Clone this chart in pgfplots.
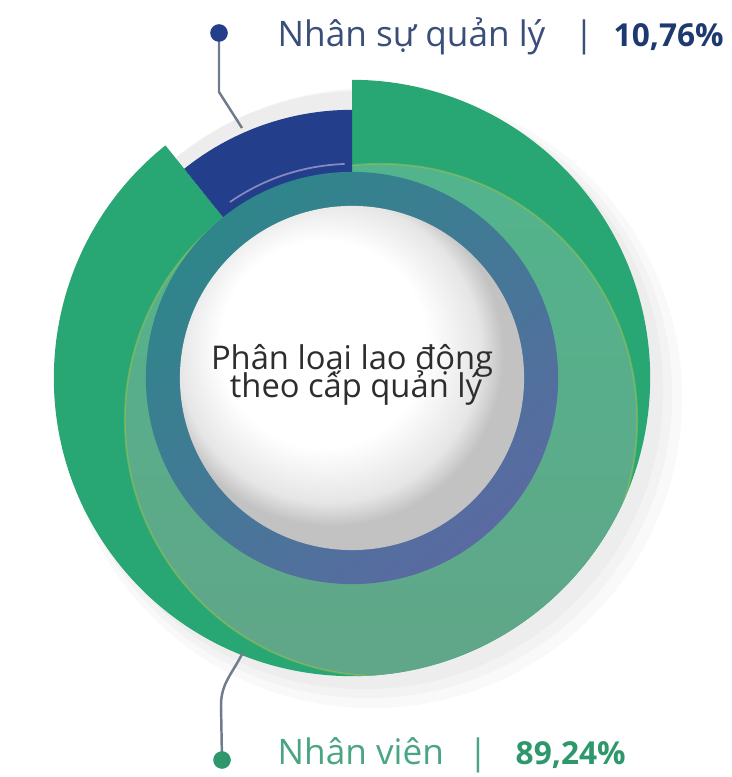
\documentclass[border=0pt]{standalone}
\usepackage{pgfplots}
\pgfplotsset{compat=1.18}
\usepackage{pgfplotstable}
\usepackage{fontspec}
\setmainfont{Open Sans}
\usetikzlibrary{calc}

\definecolor{dkgreen}{RGB}{40,167,117}
\definecolor{ltgreen}{RGB}{82,180,140}
\definecolor{greygreen}{RGB}{96,166,136}
\definecolor{navy}{RGB}{35,62,139}
\definecolor{ringteal}{RGB}{46,134,138}
\definecolor{ringslate}{RGB}{90,106,162}
\definecolor{leader}{RGB}{110,124,140}
\definecolor{lavender}{RGB}{160,156,210}
\definecolor{navytxt}{RGB}{58,78,122}
\definecolor{navybold}{RGB}{30,56,112}
\definecolor{greentxt}{RGB}{74,165,131}
\definecolor{greenbold}{RGB}{46,152,108}
\definecolor{centertxt}{RGB}{45,45,45}

% white ball in the middle, lit from the upper left
\pgfdeclareradialshading{ball}{\pgfpoint{-6bp}{7bp}}{%
  color(0bp)=(white); color(15bp)=(white); color(22bp)=(black!10);
  color(25bp)=(black!24); color(50bp)=(black!24)}

\pgfplotstableread[col sep=comma]{
group,share
Nhân sự quản lý,10.76
Nhân viên,89.24
}\laborshare

\pgfplotstablegetelem{0}{share}\of\laborshare\let\shareMgr\pgfplotsretval
\pgfplotstablegetelem{1}{share}\of\laborshare\let\shareStaff\pgfplotsretval
\pgfmathsetmacro\angMgr{90+3.6*\shareMgr}
\pgfmathsetmacro\angStaff{\angMgr+3.6*\shareStaff}

% ring centre, in picture pixels (y downwards is negative)
\def\cx{352}
\def\cy{-378}

% \donutsector{colour}{start angle}{end angle}{inner r}{outer r}
\newcommand\donutsector[5]{%
  \fill[#1] ($(axis cs:\cx,\cy)+(#2:#5)$) arc[start angle=#2, end angle=#3, radius=#5]
    -- ($(axis cs:\cx,\cy)+(#3:#4)$) arc[start angle=#3, end angle=#2, radius=#4] -- cycle;}

\begin{document}
\begin{tikzpicture}
\begin{axis}[
    name=ax, hide axis,
    x=0.01cm, y=0.01cm,
    xmin=0, xmax=731, ymin=-777, ymax=0,
    clip=false,
]
    % soft shadow under the ring, to the lower right
    \fill[black, opacity=0.025] (axis cs:372,-398) circle[radius=3.10cm];
    \fill[black, opacity=0.025] (axis cs:368,-394) circle[radius=3.04cm];
    \fill[black, opacity=0.025] (axis cs:364,-390) circle[radius=2.99cm];

    % Nhan vien: 89.24 %
    \donutsector{dkgreen}{\angMgr}{\angStaff}{2.03cm}{2.98cm}
    \begin{scope}
        \clip (axis cs:\cx,\cy) circle[radius=2.98cm];
        \shade[top color=ltgreen, bottom color=greygreen]
            (axis cs:381,-420) circle[radius=2.56cm];
        \draw[yellow!60!green!70!gray, line width=0.5pt, opacity=0.5]
            (axis cs:381,-420) circle[radius=2.56cm];
    \end{scope}

    % Nhan su quan ly: 10.76 %
    \donutsector{navy}{90}{\angMgr}{2.05cm}{2.68cm}
    \draw[lavender, line width=0.5pt, opacity=0.8]
        ($(axis cs:\cx,\cy)+(\angMgr-4:2.14cm)$) arc[start angle=\angMgr-4, end angle=92, radius=2.14cm];

    % inner ring and ball
    \shade[even odd rule, top color=ringteal, bottom color=ringslate, shading angle=40]
        (axis cs:\cx,\cy) circle[radius=2.06cm] circle[radius=1.70cm];
    \shade[shading=ball] (axis cs:\cx,\cy) circle[radius=1.72cm];

    \node[anchor=base, text=centertxt, font=\fontsize{9.3}{11}\selectfont]
        at (axis cs:352,-370) {Phân loại lao động};
    \node[anchor=base, text=centertxt, font=\fontsize{9.3}{11}\selectfont]
        at (axis cs:356,-398) {theo cấp quản lý};

    % leader lines and labels
    \draw[leader, line width=0.7pt] (axis cs:219,-33) -- (axis cs:219,-92) -- (axis cs:242,-128);
    \draw[leader, line width=0.7pt] (axis cs:243,-652) to[out=-115, in=90] (axis cs:221,-705) -- (axis cs:222,-760);
    \addplot[only marks, mark=*, mark size=2.3pt, navy] coordinates {(219,-33)};
    \addplot[only marks, mark=*, mark size=2.3pt, greenbold] coordinates {(222,-760)};

    \node[anchor=base west, inner sep=0pt, text=navytxt, font=\fontsize{10}{12}\selectfont]
        at (axis cs:277,-47) {Nhân sự quản lý};
    \node[anchor=base, inner sep=0pt, text=navytxt, font=\fontsize{10}{12}\selectfont]
        at (axis cs:584,-47) {|};
    \node[anchor=base west, inner sep=0pt, text=navybold, font=\fontsize{9}{12}\selectfont\bfseries]
        at (axis cs:613,-47) {10,76\%};

    \node[anchor=base west, inner sep=0pt, text=greentxt, font=\fontsize{10}{12}\selectfont]
        at (axis cs:277,-765) {Nhân viên};
    \node[anchor=base, inner sep=0pt, text=greentxt, font=\fontsize{10}{12}\selectfont]
        at (axis cs:478,-765) {|};
    \node[anchor=base west, inner sep=0pt, text=greenbold, font=\fontsize{9}{12}\selectfont\bfseries]
        at (axis cs:515,-765) {89,24\%};
\end{axis}
\pgfresetboundingbox
\path (ax.south west) rectangle (ax.north east);
\end{tikzpicture}
\end{document}
